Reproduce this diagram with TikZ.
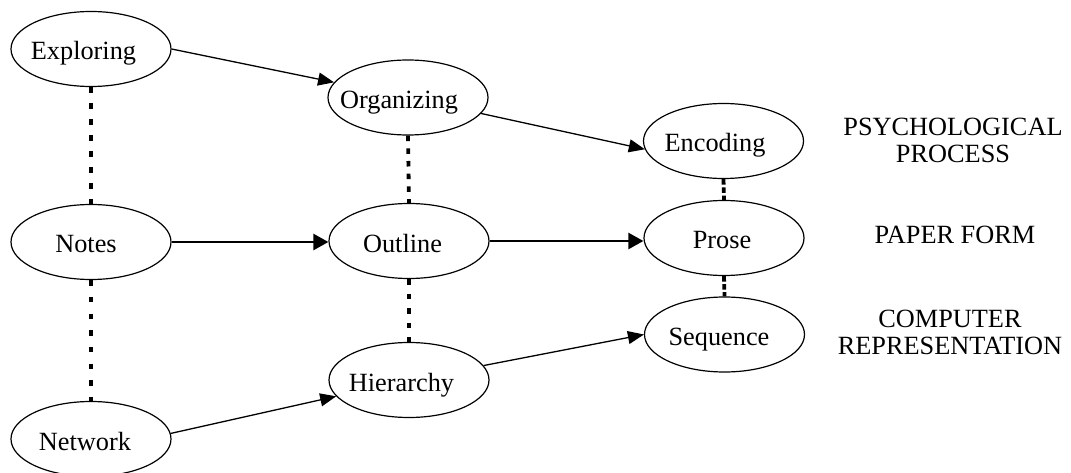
\documentclass[tikz,border=0pt]{standalone}
\usepackage{fontspec}
\setmainfont{Liberation Serif}
\usetikzlibrary{shapes.geometric,arrows.meta}

% set a word at the node centre, nudged left by #1, without letting its
% width grow the ellipse
\newcommand\ctrword[2]{\makebox[0pt][c]{\kern-#1\relax#2\kern#1\relax}}

\tikzset{
  ell/.style={ellipse, draw, line width=1.2pt, minimum width=160pt,
    minimum height=75pt, inner sep=0pt, text height=22pt, text depth=0pt,
    font=\fontsize{26.3}{27}\selectfont},
  edge/.style={line width=1.3pt, -{Triangle[length=16pt,width=13pt]}},
  thickedge/.style={line width=2.5pt, -{Triangle[length=15pt,width=16pt]}},
  level/.style={line width=3.8pt, dash pattern=on 5.5pt off #1},
  rowlabel/.style={align=center, inner sep=0pt,
    font=\fontsize{26.3}{27}\selectfont},
}

\begin{document}
\begin{tikzpicture}[x=1pt, y=-1pt]
  \useasboundingbox (0,0) rectangle (1071,473);

  % psychological process
  \node[ell] (exp)  at (91,49)    {\ctrword{7.5pt}{Exploring}};
  \node[ell] (org)  at (408,97.5) {\ctrword{9pt}{Organizing}};
  \node[ell] (enc)  at (723.5,141) {\ctrword{8.5pt}{Encoding}};

  % paper form
  \node[ell] (notes)   at (91,242)  {\ctrword{5pt}{Notes}};
  \node[ell] (outline) at (409,241) {\ctrword{6.5pt}{Outline}};
  \node[ell] (prose)   at (724,238) {\ctrword{2pt}{Prose}};

  % computer representation
  \node[ell] (net)  at (91,439)    {\ctrword{6pt}{Network}};
  \node[ell] (hier) at (409,380)   {\ctrword{7.5pt}{Hierarchy}};
  \node[ell] (seq)  at (724.5,334.5) {\ctrword{5.5pt}{Sequence}};

  % row captions
  \node[rowlabel] (lpsy)  at (953,140)   {PSYCHOLOGICAL\\PROCESS};
  \node[rowlabel] (lpap)  at (955,234.5) {PAPER FORM};
  \node[rowlabel] (lcomp) at (950,332)   {COMPUTER\\REPRESENTATION};

  % progressions along each row
  \draw[edge] (exp.east) -- (org);
  \draw[edge] (org) -- (enc.186);
  \draw[thickedge] (notes.east) -- (notes.east -| outline.west);
  \draw[thickedge] (outline.east) -- (outline.east -| prose.west);
  \draw[edge] (net.4) -- (hier);
  \draw[edge] (hier) -- (seq.west);

  % correspondences between rows
  \draw[level=10.5pt] (exp.south) -- (notes.north);
  \draw[level=11.2pt] (notes.south) -- (net.north);
  \draw[level=7.2pt]  (org.south) -- (outline.north);
  \draw[level=9pt]    (outline.south) -- (hier.north);
  \draw[level=2.8pt]  (enc.south) -- (prose.north);
  \draw[level=2.5pt]  (prose.south) -- (seq.north);
\end{tikzpicture}
\end{document}
